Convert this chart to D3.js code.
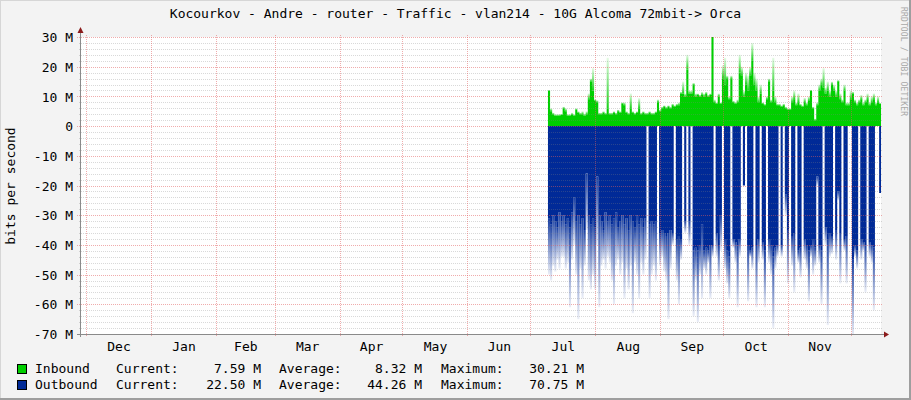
<!DOCTYPE html>
<html>
<head>
<meta charset="utf-8">
<script src="https://cdn.jsdelivr.net/npm/d3@7"></script>
<style>
  html, body { margin: 0; padding: 0; background: #f3f3f3; }
  svg text { font-family: "DejaVu Sans Mono", monospace; }
</style>
</head>
<body>
<div id="chart"></div>
<script>
// ---- data ----------------------------------------------------------------
const title = "Kocourkov - Andre - router - Traffic - vlan214 - 10G Alcoma 72mbit-> Orca";
const monthLabels = ["Dec", "Jan", "Feb", "Mar", "Apr", "May", "Jun", "Jul", "Aug", "Sep", "Oct", "Nov"];
const yTicks = [30, 20, 10, 0, -10, -20, -30, -40, -50, -60, -70];
const yTickLabels = ["30 M", "20 M", "10 M", "0", "-10 M", "-20 M", "-30 M", "-40 M", "-50 M", "-60 M", "-70 M"];

// one sample per day, first one on 9 Jul
const firstSample = Date.UTC(2023, 6, 9, 10);

// inbound, M bits/s (solid level and short-lived peak)
const inbound = [
  12, 5, 4, 3.5, 3.5, 3.6, 3.8, 6, 5, 3.5,
  3.5, 3.8, 3.5, 5.5, 4.5, 4, 4, 3.5, 4, 9,
  15, 12, 8.5, 8, 4, 4, 4.5, 4, 6, 4,
  4, 4.5, 4, 5, 4.5, 7.5, 7, 4.5, 4, 6,
  4.5, 4, 4.5, 6, 4, 4.5, 4, 4, 4.5, 4,
  4, 4.5, 8, 5, 6, 6.5, 6, 6.5, 6, 7,
  6.5, 7, 7, 11, 11, 10, 19, 11, 11, 14,
  10, 10.5, 10, 10.5, 10, 11, 10, 10.5, 30.21, 8,
  7.5, 10, 7.5, 16, 14, 16, 9, 16, 8, 7.5,
  8, 18, 17, 10, 14, 12, 17, 22, 14, 12,
  8, 11, 7.5, 7, 9, 15, 8, 12, 8, 7,
  7, 6.5, 7, 6, 5.5, 5.5, 8, 9, 7, 8,
  7, 6.5, 8, 7, 8.5, 12, 6, 2, 7, 12,
  14, 13, 11, 12, 10, 14, 12, 10, 15, 9,
  8, 12, 7, 7, 9, 11, 8, 7, 8, 9,
  7, 8, 9, 7, 8, 9, 7, 8, 7.59
];
const inboundPeak = [
  12, 6, 4.5, 4, 4, 4, 4, 6.5, 6, 4,
  4, 4.5, 4, 6, 5, 4.5, 5, 4.2, 5, 11,
  16, 19.5, 9, 8.7, 4.5, 4.5, 5, 4.5, 23, 4.5,
  4.5, 5, 4.5, 5.5, 5, 8, 8, 5, 4.5, 11,
  5, 4.5, 5, 9.4, 4.5, 5, 4.5, 4.5, 5, 4.5,
  4.5, 5, 9, 5.5, 6.5, 7, 6.5, 7, 6.5, 7.5,
  7, 7.5, 8, 11.5, 15, 11, 24, 12, 12, 14.5,
  11, 11, 10.5, 11.5, 11, 11.5, 10.5, 11, 30.21, 9,
  8, 11, 8, 20.5, 23, 17, 10, 17, 8.5, 8,
  9, 24, 20, 12, 18, 17, 20, 28, 18, 16,
  10, 14, 8, 7.5, 10, 16, 9, 23, 10, 7.5,
  7.5, 7, 7.5, 6.5, 6, 6, 10, 12, 8, 11,
  7.5, 7, 9.5, 8, 10, 12, 6.5, 2.5, 8, 14,
  16, 19.5, 13, 15, 12, 15, 14, 12, 15.5, 11,
  9, 14, 8, 8, 12, 11.5, 9, 8, 9, 10.5,
  8, 9, 11, 8, 10, 11, 8, 10, 7.59
];

// outbound, M bits/s, drawn below zero
const outbound = [
  31, 33, 30, 32, 34, 29, 32, 30, 33, 31,
  34, 29, 24, 32, 30, 33, 31, 35, 16, 30,
  33, 31, 34, 17, 30, 32, 35, 29, 32, 30,
  33, 31, 29, 34, 32, 30, 33, 31, 35, 30,
  32, 34, 30, 33, 31, 34, 31, 0, 33, 32,
  33, 32, 0, 36, 35, 36, 37, 36, 35, 36,
  0, 38, 37, 38, 0, 32, 0, 32, 0, 42,
  41, 42, 40, 33, 42, 41, 42, 40, 40, 0,
  36, 40, 30, 0, 38, 42, 44, 0, 38, 39,
  40, 38, 0, 20, 0, 40, 42, 41, 0, 40,
  38, 0, 39, 42, 0, 38, 40, 44, 41, 40,
  0, 40, 0, 23, 35, 0, 37, 36, 0, 42,
  41, 0, 38, 40, 42, 40, 38, 41, 17, 40,
  42, 0, 34, 38, 36, 37, 0, 35, 22, 36,
  0, 38, 37, 0, 0, 45, 40, 42, 0, 38,
  39, 40, 0, 39, 40, 41, 0, 0, 22.5
];
const outboundPeak = [
  50, 52, 47, 49, 45, 48, 44, 44, 48, 46,
  61, 45, 40, 50, 65, 48, 58, 47, 35, 52,
  55, 50, 55, 40, 61, 47, 45, 48, 44, 46,
  52, 60, 47, 45, 50, 46, 58, 48, 55, 47,
  63, 46, 50, 58, 46, 50, 45, 0, 58, 50,
  47, 52, 0, 47, 44, 49, 52, 65, 48, 40,
  0, 52, 60, 45, 0, 36, 0, 40, 0, 64,
  52, 66, 50, 58, 48, 50, 46, 58, 44, 0,
  44, 52, 42, 0, 48, 53, 58, 0, 41, 46,
  61, 44, 0, 20, 0, 59, 44, 48, 0, 61,
  46, 0, 45, 61, 0, 46, 50, 68, 48, 44,
  0, 44, 0, 30, 53, 0, 47, 56, 0, 46,
  51, 0, 45, 48, 59, 44, 50, 47, 20, 46,
  60, 0, 40, 67, 44, 43, 0, 45, 25, 53,
  0, 42, 53, 0, 0, 70.75, 44, 48, 0, 45,
  42, 56, 0, 44, 46, 62, 0, 0, 22.5
];

const legendNames = ["Inbound", "Outbound"];
const legendColors = ["#00CF00", "#002A97"];
const currentValues = ["7.59 M", "22.50 M"];
const averageValues = ["8.32 M", "44.26 M"];
const maximumValues = ["30.21 M", "70.75 M"];

// ---- layout ---------------------------------------------------------------
const width = 911;
const height = 400;
const plotLeft = 81, plotRight = 881, plotTop = 37, plotBottom = 334;
const DAY = 24 * 3600 * 1000;
const fontSize = 13;

const svg = d3.select('#chart')
  .append('svg')
    .attr('width', width)
    .attr('height', height);

// background with rrdtool style shading
svg.append('rect').attr('width', width).attr('height', height).attr('fill', '#f3f3f3');
svg.append('path').attr('d', `M0,${height} V0 H${width}`).attr('fill', 'none')
  .attr('stroke', '#d6d6d6').attr('stroke-width', 2);
svg.append('path').attr('d', `M0,${height - 1} H${width - 1} V0`).attr('fill', 'none')
  .attr('stroke', '#9e9e9e').attr('stroke-width', 2);

// canvas
svg.append('rect')
  .attr('x', plotLeft).attr('y', plotTop)
  .attr('width', plotRight - plotLeft).attr('height', plotBottom - plotTop)
  .attr('fill', '#ffffff');

const xScale = d3.scaleUtc()
  .domain([Date.UTC(2022, 10, 28, 14, 45), Date.UTC(2023, 11, 15, 7, 30)])
  .range([plotLeft, plotRight]);

const yScale = d3.scaleLinear()
  .domain([-70, 30])
  .range([plotBottom, plotTop]);

const defs = svg.append('defs');
defs.append('clipPath').attr('id', 'plot')
  .append('rect')
    .attr('x', plotLeft).attr('y', plotTop)
    .attr('width', plotRight - plotLeft).attr('height', plotBottom - plotTop);

// gradients used for the short peaks
const gOut = defs.append('linearGradient').attr('id', 'fadeOut')
  .attr('x1', 0).attr('y1', 0).attr('x2', 0).attr('y2', 1);
gOut.append('stop').attr('offset', '0%').attr('stop-color', '#002A97').attr('stop-opacity', 0.9);
gOut.append('stop').attr('offset', '100%').attr('stop-color', '#002A97').attr('stop-opacity', 0.08);
const gIn = defs.append('linearGradient').attr('id', 'fadeIn')
  .attr('x1', 0).attr('y1', 1).attr('x2', 0).attr('y2', 0);
gIn.append('stop').attr('offset', '0%').attr('stop-color', '#00CF00').attr('stop-opacity', 0.9);
gIn.append('stop').attr('offset', '100%').attr('stop-color', '#00CF00').attr('stop-opacity', 0.1);

// build samples
const samples = inbound.map((v, i) => ({
  t: new Date(firstSample + i * DAY),
  t1: new Date(firstSample + (i + 1) * DAY),
  inV: v, inP: inboundPeak[i],
  outV: outbound[i], outP: outboundPeak[i]
}));
const last = samples[samples.length - 1];
const stepData = samples.concat([Object.assign({}, last, { t: last.t1 })]);

const plot = svg.append('g').attr('clip-path', 'url(#plot)');

// inbound area
plot.append('path')
  .datum(stepData)
  .attr('fill', '#00CF00')
  .attr('d', d3.area()
    .x(d => xScale(d.t))
    .y0(yScale(0))
    .y1(d => yScale(d.inV))
    .curve(d3.curveStepAfter));

// outbound area (negative)
plot.append('path')
  .datum(stepData)
  .attr('fill', '#002A97')
  .attr('d', d3.area()
    .x(d => xScale(d.t))
    .y0(yScale(0))
    .y1(d => yScale(-d.outV))
    .curve(d3.curveStepAfter));

// faded peaks
plot.selectAll('rect.inPeak')
  .data(samples.filter(d => d.inP > d.inV))
  .enter().append('rect')
    .attr('class', 'inPeak')
    .attr('x', d => xScale(d.t))
    .attr('width', d => xScale(d.t1) - xScale(d.t))
    .attr('y', d => yScale(d.inP))
    .attr('height', d => yScale(d.inV) - yScale(d.inP))
    .attr('fill', 'url(#fadeIn)');

plot.selectAll('rect.outPeak')
  .data(samples.filter(d => d.outP > d.outV))
  .enter().append('rect')
    .attr('class', 'outPeak')
    .attr('x', d => xScale(d.t))
    .attr('width', d => xScale(d.t1) - xScale(d.t))
    .attr('y', d => yScale(-d.outV))
    .attr('height', d => yScale(-d.outP) - yScale(-d.outV))
    .attr('fill', 'url(#fadeOut)');

// ---- grid (drawn on top like rrdtool) -------------------------------------
const grid = svg.append('g');
const minorTicks = d3.range(-70, 31, 2).filter(v => v % 10 !== 0);
grid.selectAll('line.minor')
  .data(minorTicks)
  .enter().append('line')
    .attr('x1', plotLeft - 2).attr('x2', plotRight + 2)
    .attr('y1', d => Math.round(yScale(d)) + 0.5)
    .attr('y2', d => Math.round(yScale(d)) + 0.5)
    .attr('stroke', 'rgba(130,130,130,0.3)')
    .attr('stroke-dasharray', '1,1');

grid.selectAll('line.major')
  .data(yTicks)
  .enter().append('line')
    .attr('x1', plotLeft - 4).attr('x2', plotRight + 2)
    .attr('y1', d => Math.round(yScale(d)) + 0.5)
    .attr('y2', d => Math.round(yScale(d)) + 0.5)
    .attr('stroke', 'rgba(225,90,90,0.5)')
    .attr('stroke-dasharray', '1,1');

const monthStarts = d3.utcMonth.range(Date.UTC(2022, 11, 1), Date.UTC(2023, 11, 2));
grid.selectAll('line.month')
  .data(monthStarts)
  .enter().append('line')
    .attr('x1', d => Math.round(xScale(d)) + 0.5)
    .attr('x2', d => Math.round(xScale(d)) + 0.5)
    .attr('y1', plotTop - 2).attr('y2', plotBottom + 3)
    .attr('stroke', 'rgba(225,90,90,0.5)')
    .attr('stroke-dasharray', '1,1');

// ---- axes lines and arrows ------------------------------------------------
svg.append('line')
  .attr('x1', plotLeft - 4).attr('x2', plotRight + 4)
  .attr('y1', plotBottom + 0.5).attr('y2', plotBottom + 0.5)
  .attr('stroke', '#8a8a8a');
svg.append('line')
  .attr('x1', plotLeft - 0.5).attr('x2', plotLeft - 0.5)
  .attr('y1', plotBottom + 3).attr('y2', plotTop - 6)
  .attr('stroke', '#8a8a8a');
svg.append('path')
  .attr('d', `M${plotRight + 3},${plotBottom - 2.5} L${plotRight + 8},${plotBottom + 0.5} L${plotRight + 3},${plotBottom + 3.5} Z`)
  .attr('fill', '#8b1a1a');
svg.append('path')
  .attr('d', `M${plotLeft - 3.5},${plotTop - 4} L${plotLeft - 0.5},${plotTop - 10} L${plotLeft + 2.5},${plotTop - 4} Z`)
  .attr('fill', '#8b1a1a');

// y labels through d3 axis
const yAxis = svg.append('g')
  .attr('transform', `translate(${plotLeft - 8}, 0)`)
  .call(d3.axisLeft(yScale)
    .tickValues(yTicks)
    .tickFormat((d, i) => yTickLabels[i])
    .tickSize(0)
    .tickPadding(0));
yAxis.select('.domain').remove();
yAxis.selectAll('text')
  .attr('font-family', '"DejaVu Sans Mono", monospace')
  .attr('font-size', fontSize)
  .attr('fill', '#000')
  .attr('dy', '0.36em');

// month labels centred between month boundaries
const monthMids = monthStarts.slice(0, 12).map((d, i) =>
  new Date((+d + +monthStarts[i + 1]) / 2));
const xAxis = svg.append('g')
  .attr('transform', `translate(0, ${plotBottom})`)
  .call(d3.axisBottom(xScale)
    .tickValues(monthMids)
    .tickFormat((d, i) => monthLabels[i])
    .tickSize(0)
    .tickPadding(0));
xAxis.select('.domain').remove();
xAxis.selectAll('text')
  .attr('font-family', '"DejaVu Sans Mono", monospace')
  .attr('font-size', fontSize)
  .attr('fill', '#000')
  .attr('y', 17)
  .attr('dy', 0);

// ---- titles ---------------------------------------------------------------
svg.append('text')
  .attr('x', width / 2)
  .attr('y', 18)
  .attr('text-anchor', 'middle')
  .attr('font-size', fontSize)
  .attr('fill', '#000')
  .text(title);

svg.append('text')
  .attr('transform', 'translate(15, 186) rotate(-90)')
  .attr('text-anchor', 'middle')
  .attr('font-size', fontSize)
  .attr('fill', '#000')
  .text('bits per second');

svg.append('text')
  .attr('transform', 'translate(900.5, 7) rotate(90)')
  .attr('font-size', 8)
  .attr('letter-spacing', 0.15)
  .attr('fill', '#a8a8a8')
  .text('RRDTOOL / TOBI OETIKER');

// ---- legend ---------------------------------------------------------------
const legend = svg.append('g');
legendNames.forEach((name, i) => {
  const y = 373 + i * 16;
  legend.append('rect')
    .attr('x', 17.5).attr('y', y - 8.5)
    .attr('width', 9).attr('height', 9)
    .attr('fill', legendColors[i])
    .attr('stroke', '#000');
  legend.append('text').attr('x', 35).attr('y', y).attr('font-size', fontSize).text(name);
  legend.append('text').attr('x', 116).attr('y', y).attr('font-size', fontSize).text('Current:');
  legend.append('text').attr('x', 261).attr('y', y).attr('font-size', fontSize)
    .attr('text-anchor', 'end').text(currentValues[i]);
  legend.append('text').attr('x', 279).attr('y', y).attr('font-size', fontSize).text('Average:');
  legend.append('text').attr('x', 422).attr('y', y).attr('font-size', fontSize)
    .attr('text-anchor', 'end').text(averageValues[i]);
  legend.append('text').attr('x', 441).attr('y', y).attr('font-size', fontSize).text('Maximum:');
  legend.append('text').attr('x', 584).attr('y', y).attr('font-size', fontSize)
    .attr('text-anchor', 'end').text(maximumValues[i]);
});
</script>
</body>
</html>
